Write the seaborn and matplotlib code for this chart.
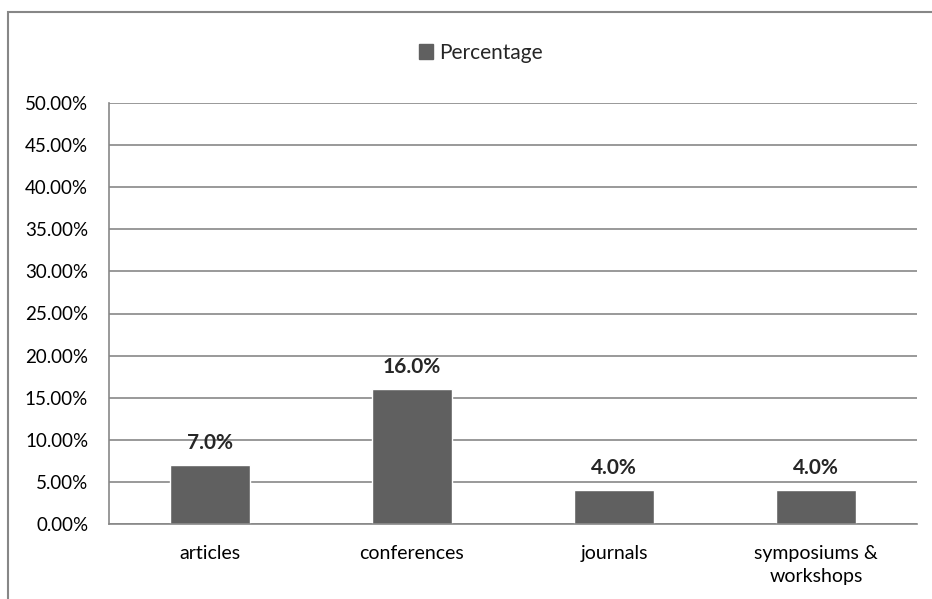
import matplotlib
matplotlib.use("Agg")
import matplotlib.pyplot as plt
import seaborn as sns
import pandas as pd
from matplotlib.patches import Rectangle, Patch
from matplotlib.ticker import FuncFormatter, MultipleLocator

categories = ["articles", "conferences", "journals", "symposiums &\nworkshops"]
values = [7.0, 16.0, 4.0, 4.0]
series_name = "Percentage"

sns.set_style("white")
plt.rcParams['font.family'] = ['Lato', 'DejaVu Sans']

df = pd.DataFrame({"category": categories, "value": values, "series": series_name})

fig = plt.figure(figsize=(9.32, 5.99), dpi=100)
ax = fig.add_axes([109/932, 1-524/599, (917-109)/932, (524-103)/599])

grey = "#878787"
barc = "#606060"
sns.barplot(data=df, x="category", y="value", hue="series", palette=[barc],
            width=0.4, ax=ax, saturation=1, legend=False)

ax.set_ylim(0, 50)
ax.set_xlim(-0.5, 3.5)
ax.yaxis.set_major_locator(MultipleLocator(5))
ax.yaxis.set_major_formatter(FuncFormatter(lambda v, p: f"{v:.2f}%"))
ax.grid(axis="y", color=grey, lw=1.2)
ax.set_axisbelow(True)
for s in ["top", "right"]:
    ax.spines[s].set_visible(False)
for s in ["left", "bottom"]:
    ax.spines[s].set_color(grey)
    ax.spines[s].set_linewidth(1.2)
ax.set_xlabel("")
ax.set_ylabel("")
ax.set_xticks([0, 1, 2, 3])
ax.set_xticklabels(categories, linespacing=1.45)
ax.set_xticks([-0.5, 0.5, 1.5, 2.5, 3.5], minor=True)
ax.tick_params(axis="x", which="major", length=0, pad=15, labelsize=14, labelcolor="black")
ax.tick_params(axis="x", which="minor", length=5, width=1.2, color=grey, direction="out")
ax.tick_params(axis="y", length=0, pad=15, labelsize=13.5, labelcolor="black")

for cont in ax.containers:
    ax.bar_label(cont, labels=[f"{v:.1f}%" for v in values], padding=9,
                 fontsize=15, fontweight="bold")

# legend
leg = fig.legend(handles=[Patch(facecolor=barc, edgecolor=barc, label=series_name)],
                 loc="center", bbox_to_anchor=(481/932, 1-53/599), frameon=False,
                 fontsize=15, handlelength=0.7, handleheight=0.7, handletextpad=0.3)

# figure border
fig.patches.append(Rectangle((8/932, -0.1), 1.2, 1.1-12/599, transform=fig.transFigure,
                             fill=False, edgecolor=grey, lw=1.5))

fig.savefig("out.png", dpi=100)
